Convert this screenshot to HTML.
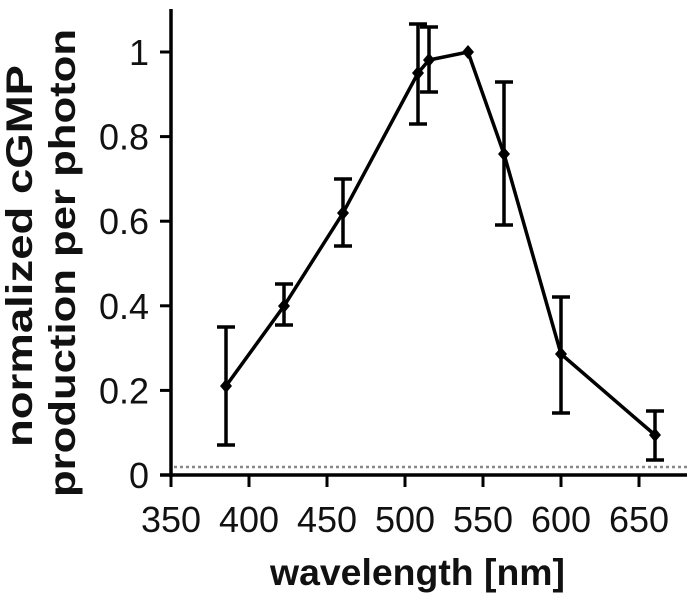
<!DOCTYPE html>
<html><head><meta charset="utf-8"><style>
html,body{margin:0;padding:0;background:#fff;}
svg{display:block;}
text{font-family:"Liberation Sans",Arial,sans-serif;fill:#111;}
</style></head><body>
<svg width="690" height="600" viewBox="0 0 690 600" xmlns="http://www.w3.org/2000/svg">
<line x1="174" y1="467" x2="687" y2="467" stroke="#888" stroke-width="2.5" stroke-dasharray="3,3"/>
<line x1="171" y1="9" x2="171" y2="477" stroke="#000" stroke-width="3.5"/>
<line x1="160" y1="475" x2="687" y2="475" stroke="#000" stroke-width="3.5"/>
<g stroke="#000" stroke-width="3">
<line x1="160" y1="52" x2="171" y2="52"/>
<line x1="160" y1="136.6" x2="171" y2="136.6"/>
<line x1="160" y1="221.2" x2="171" y2="221.2"/>
<line x1="160" y1="305.8" x2="171" y2="305.8"/>
<line x1="160" y1="390.4" x2="171" y2="390.4"/>
<line x1="171" y1="475" x2="171" y2="487"/>
<line x1="249" y1="475" x2="249" y2="487"/>
<line x1="327" y1="475" x2="327" y2="487"/>
<line x1="405" y1="475" x2="405" y2="487"/>
<line x1="483" y1="475" x2="483" y2="487"/>
<line x1="561" y1="475" x2="561" y2="487"/>
<line x1="639" y1="475" x2="639" y2="487"/>
</g>
<g font-size="36" text-anchor="end">
<text x="149" y="65">1</text>
<text x="149" y="149.6">0.8</text>
<text x="149" y="234.2">0.6</text>
<text x="149" y="318.8">0.4</text>
<text x="149" y="403.4">0.2</text>
<text x="149" y="488">0</text>
</g>
<g font-size="36" text-anchor="middle">
<text x="171" y="532">350</text>
<text x="249" y="532">400</text>
<text x="327" y="532">450</text>
<text x="405" y="532">500</text>
<text x="483" y="532">550</text>
<text x="561" y="532">600</text>
<text x="639" y="532">650</text>
</g>
<text x="270" y="585" font-size="37" font-weight="bold" textLength="295" lengthAdjust="spacingAndGlyphs">wavelength [nm]</text>
<text transform="translate(32,447) rotate(-90)" font-size="37" font-weight="bold" textLength="382" lengthAdjust="spacingAndGlyphs">normalized cGMP</text>
<text transform="translate(75,497) rotate(-90)" font-size="37" font-weight="bold" textLength="468" lengthAdjust="spacingAndGlyphs">production per photon</text>
<g stroke="#000" stroke-width="3.5">
<line x1="226" y1="445" x2="226" y2="327"/><line x1="217" y1="445" x2="235" y2="445"/><line x1="217" y1="327" x2="235" y2="327"/>
<line x1="284" y1="325" x2="284" y2="284"/><line x1="275" y1="325" x2="293" y2="325"/><line x1="275" y1="284" x2="293" y2="284"/>
<line x1="343" y1="246" x2="343" y2="179"/><line x1="334" y1="246" x2="352" y2="246"/><line x1="334" y1="179" x2="352" y2="179"/>
<line x1="418" y1="124" x2="418" y2="24"/><line x1="409" y1="124" x2="427" y2="124"/><line x1="409" y1="24" x2="427" y2="24"/>
<line x1="429" y1="92" x2="429" y2="27"/><line x1="420" y1="92" x2="438" y2="92"/><line x1="420" y1="27" x2="438" y2="27"/>
<line x1="504" y1="225" x2="504" y2="82"/><line x1="495" y1="225" x2="513" y2="225"/><line x1="495" y1="82" x2="513" y2="82"/>
<line x1="561" y1="413" x2="561" y2="297"/><line x1="552" y1="413" x2="570" y2="413"/><line x1="552" y1="297" x2="570" y2="297"/>
<line x1="655" y1="460" x2="655" y2="411"/><line x1="646" y1="460" x2="664" y2="460"/><line x1="646" y1="411" x2="664" y2="411"/>
</g>
<polyline fill="none" stroke="#000" stroke-width="3.5" points="226,386 284,306 343,213 418,73 429,60 468,52 504,154 561,354 655,435"/>
<g fill="#000">
<path d="M226,379 l6,7 l-6,7 l-6,-7z"/>
<path d="M284,299 l6,7 l-6,7 l-6,-7z"/>
<path d="M343,206 l6,7 l-6,7 l-6,-7z"/>
<path d="M418,66 l6,7 l-6,7 l-6,-7z"/>
<path d="M429,53 l6,7 l-6,7 l-6,-7z"/>
<path d="M468,45 l6,7 l-6,7 l-6,-7z"/>
<path d="M504,147 l6,7 l-6,7 l-6,-7z"/>
<path d="M561,347 l6,7 l-6,7 l-6,-7z"/>
<path d="M655,428 l6,7 l-6,7 l-6,-7z"/>
</g>
</svg>
</body></html>
